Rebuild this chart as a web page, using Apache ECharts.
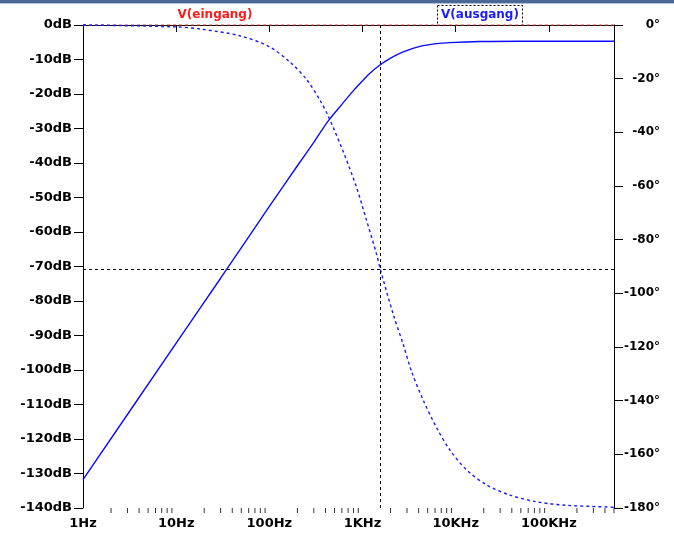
<!DOCTYPE html>
<html>
<head>
<meta charset="utf-8">
<title>Bode</title>
<script src="https://cdn.jsdelivr.net/npm/echarts@6/dist/echarts.min.js"></script>
<style>
    body { margin: 0; background: #ffffff; }
    #main { width: 674px; height: 536px; }
</style>
</head>
<body>
<div id="main"></div>

<script>
    // V(ausgang) Betrag in dB
    var magFreq = [1, 10, 30, 100, 200, 300, 429, 600, 795, 1000, 1200, 1537, 2000, 2733, 4130, 6240, 8660, 18200, 50000, 500000];
    var magDb   = [-131.8, -92.2, -73.4, -52.6, -40.8, -34.0, -27.8, -23.0, -19.1, -16.2, -14.0, -11.6, -9.6, -7.8, -6.2, -5.4, -5.1, -4.8, -4.7, -4.7];

    // V(ausgang) Phase in Grad
    var phaseFreq = [1, 10, 18, 48, 100, 166, 251, 349, 429, 621, 864, 1107, 1417, 1537, 2135, 2733, 3365, 4480, 6240, 8670, 13100, 21500, 38200, 73800, 155000, 500000];
    var phaseDeg  = [0, -0.7, -1.5, -4.0, -8.1, -13.8, -20.3, -28.0, -34.0, -47.2, -60.6, -72.9, -85.5, -90.5, -107.8, -119, -129.2, -139.8, -150.1, -158.4, -165.8, -171.4, -175.2, -177.7, -179, -179.7];

    // V(eingang): 0dB
    var inFreq = [1, 500000];
    var inDb   = [0, 0];

    // Cursor
    var cursorFreq = 1537;
    var cursorDeg = -91;

    var freqLabels = {1: '1Hz', 10: '10Hz', 100: '100Hz', 1000: '1KHz', 10000: '10KHz', 100000: '100KHz'};
    var decades = [1, 10, 100, 1000, 10000, 100000];
    var minorSteps = [2, 3, 4, 5, 6, 7, 8, 9];

    function pairs(xs, ys) {
        var out = [];
        for (var i = 0; i < xs.length; ++i) out.push([xs[i], ys[i]]);
        return out;
    }

    var minorTicks = [];
    for (var i = 0; i < decades.length; ++i) {
        for (var j = 0; j < minorSteps.length; ++j) {
            var f = decades[i] * minorSteps[j];
            if (f <= 500000) minorTicks.push([f, -140]);
        }
    }

    var labelFont = {color: '#000', fontFamily: 'DejaVu Sans', fontWeight: 'bold', fontSize: 13};

    var option = {
        animation: false,
        backgroundColor: '#ffffff',
        grid: {left: 83, right: 60, top: 25, bottom: 28, containLabel: false},
        xAxis: {
            type: 'log',
            logBase: 10,
            min: 1,
            max: 500000,
            axisLine: {show: true, lineStyle: {color: '#000', width: 1}},
            axisTick: {show: true, length: 7, inside: false, lineStyle: {color: '#000'}},
            axisLabel: Object.assign({
                margin: 9,
                showMaxLabel: false,
                formatter: function (v) { return freqLabels[Math.round(v)] || ''; }
            }, labelFont),
            splitLine: {show: false}
        },
        yAxis: [
            {
                type: 'value',
                min: -140,
                max: 0,
                interval: 10,
                position: 'left',
                axisLine: {show: true, lineStyle: {color: '#000', width: 1}},
                axisTick: {show: true, length: 9, lineStyle: {color: '#000'}},
                axisLabel: Object.assign({
                    margin: 11,
                    formatter: function (v) { return v + 'dB'; }
                }, labelFont),
                splitLine: {show: false}
            },
            {
                type: 'value',
                min: -180,
                max: 0,
                interval: 20,
                position: 'right',
                axisLine: {show: true, lineStyle: {color: '#000', width: 1}},
                axisTick: {show: true, length: 9, lineStyle: {color: '#000'}},
                axisLabel: Object.assign({}, labelFont, {
                    margin: 46,
                    align: 'right',
                    fontSize: 12,
                    formatter: function (v) { return v + '°'; }
                }),
                splitLine: {show: false}
            }
        ],
        graphic: [
            {type: 'rect', shape: {x: 0, y: 0, width: 674, height: 3}, style: {fill: '#4a6896'}, silent: true},
            {type: 'rect', shape: {x: 0, y: 3, width: 674, height: 1}, style: {fill: '#b4c2d8'}, silent: true},
            {
                type: 'text', x: 215, y: 15,
                style: {text: 'V(eingang)', fill: '#ff1a1a', font: 'bold 12px "DejaVu Sans"', textAlign: 'center', textVerticalAlign: 'middle'}
            },
            {
                type: 'text', x: 480, y: 15,
                style: {text: 'V(ausgang)', fill: '#1a1aff', font: 'bold 12px "DejaVu Sans"', textAlign: 'center', textVerticalAlign: 'middle'}
            },
            {
                type: 'rect', shape: {x: 437.5, y: 5.5, width: 85, height: 20},
                style: {fill: 'none', stroke: '#000', lineWidth: 1, lineDash: [2, 2]}, silent: true
            }
        ],
        series: [
            {
                name: 'V(eingang)',
                type: 'line',
                yAxisIndex: 0,
                data: pairs(inFreq, inDb),
                showSymbol: false,
                clip: false,
                lineStyle: {color: '#ff3030', width: 1, type: [3, 3]}
            },
            {
                name: 'Phase',
                type: 'line',
                yAxisIndex: 1,
                data: pairs(phaseFreq, phaseDeg),
                smooth: 0.3,
                showSymbol: false,
                clip: false,
                lineStyle: {color: '#1a1aff', width: 1.4, type: [3, 3]},
                markLine: {
                    silent: true,
                    symbol: ['none', 'none'],
                    label: {show: false},
                    lineStyle: {color: '#000', width: 1, type: [3, 3]},
                    data: [{yAxis: cursorDeg}]
                }
            },
            {
                name: 'V(ausgang)',
                type: 'line',
                yAxisIndex: 0,
                data: pairs(magFreq, magDb),
                smooth: 0.3,
                showSymbol: false,
                lineStyle: {color: '#0a0aff', width: 1.4},
                markLine: {
                    silent: true,
                    symbol: ['none', 'none'],
                    label: {show: false},
                    lineStyle: {color: '#000', width: 1, type: [3, 3]},
                    data: [{xAxis: cursorFreq}]
                }
            },
            {
                name: 'minorTicks',
                type: 'scatter',
                yAxisIndex: 0,
                data: minorTicks,
                symbol: 'rect',
                symbolSize: [1, 5],
                symbolOffset: [0, 2.5],
                clip: false,
                silent: true,
                itemStyle: {color: '#000'}
            }
        ]
    };

    var myChart = echarts.init(document.getElementById('main'));
    myChart.setOption(option);
</script>
</body>
</html>
